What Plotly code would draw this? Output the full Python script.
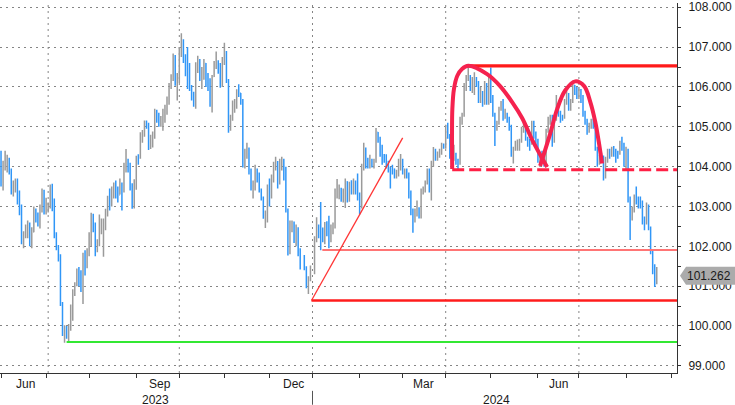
import pandas as pd
import plotly.graph_objects as go

# ---------------- data: DXY daily bars ----------------
closed_days = ['2023-12-25', '2024-01-01']
dates = [d.strftime('%Y-%m-%d') for d in pd.bdate_range('2023-05-31', '2024-08-22')
         if d.strftime('%Y-%m-%d') not in closed_days]

open_ = [
    104.08,
    104.33, 103.55, 104.03, 104.04, 104.13, 103.87, 103.33, 103.56, 103.63, 103.35, 102.95, 102.12, 102.26, 102.52, 102.52, 102.09, 102.36, 102.90, 102.69, 102.53, 102.90, 103.36,
    102.91, 102.98, 103.03, 103.37, 103.16, 102.27, 101.97, 101.73, 100.53, 99.77, 99.93, 99.91, 99.96, 100.28, 100.85, 101.07, 101.37, 101.34, 100.89, 101.78, 101.62,
    101.86, 102.30, 102.58, 102.49, 102.02, 102.08, 102.53, 102.53, 102.58, 102.85, 103.20, 103.18, 103.43, 103.58, 103.37, 103.29, 103.53, 103.38, 104.02, 104.13, 104.04, 103.53, 103.17,
    103.62, 104.24, 104.23, 104.83, 104.84, 105.08, 105.07, 104.57, 104.71, 104.75, 105.39, 105.32, 105.12, 105.19, 105.36, 105.39, 105.58, 106.00, 106.21, 106.68, 106.13,
    106.17, 106.92, 106.99, 106.78, 106.33, 106.04, 105.96, 105.80, 105.55, 106.58, 106.65, 106.25, 106.27, 106.59, 106.23, 106.16, 105.56, 106.26, 106.57, 106.61, 106.56, 106.10,
    106.66, 106.86, 106.17, 105.03, 105.23, 105.55, 105.57, 105.91, 105.85, 105.65, 104.07, 104.37, 104.37, 103.87, 103.45, 103.56, 103.91, 103.76, 103.40, 103.20, 102.77, 102.80,
    103.50, 103.27, 103.68, 104.00, 104.11, 103.61, 104.01, 104.05, 103.86, 102.90, 101.96, 102.55, 102.57, 102.18, 102.42, 101.81, 101.70, 101.45, 100.99, 101.23,
    101.33, 102.20, 102.47, 102.43, 102.42, 102.24, 102.55, 102.37, 102.29, 102.40, 102.51, 103.37, 103.43, 103.43, 103.29, 103.32, 103.62, 103.20, 103.58, 103.44, 103.60, 103.41,
    103.27, 103.05, 103.92, 104.44, 104.12, 104.05, 104.14, 104.11, 104.14, 104.86, 104.71, 104.28, 104.27, 104.27, 104.06, 103.97, 103.94, 103.94, 103.79, 103.83, 104.14,
    104.16, 103.86, 103.88, 103.81, 103.35, 102.80, 102.71, 102.89, 102.95, 102.79, 103.36, 103.43, 103.59, 103.90, 103.40, 104.06, 104.43, 104.23, 104.32, 104.35, 104.55,
    104.51, 104.98, 104.79, 104.25, 104.26, 104.30, 104.14, 104.10, 105.22, 105.28, 106.04, 106.21, 106.26, 105.96, 106.15, 106.15, 106.12, 105.66, 105.86, 105.58, 106.08, 105.60,
    106.22, 105.74, 105.29, 105.04, 105.08, 105.44, 105.53, 105.21, 105.30, 105.21, 104.99, 104.33, 104.43, 104.45, 104.58, 104.63, 104.92, 105.00, 104.72, 104.60, 104.60, 105.12, 104.76,
    104.67, 104.14, 104.27, 104.26, 104.10, 104.89, 105.15, 105.26, 104.68, 105.20, 105.55, 105.33, 105.26, 105.24, 105.63, 105.80, 105.46, 105.62, 106.04, 105.90,
    105.87, 105.89, 105.73, 105.38, 105.14, 104.88, 105.00, 105.12, 105.05, 104.44, 104.09, 104.25, 104.23, 103.75, 104.17, 104.40, 104.30, 104.46, 104.38, 104.34, 104.32, 104.57, 104.55,
    104.10, 104.40, 103.21, 102.73, 102.93, 103.16, 103.14, 103.14, 103.12, 102.62, 102.60, 103.00, 102.45, 101.85, 101.43, 101.10,
]
high = [
    104.70,
    104.40, 104.15, 104.40, 104.30, 104.22, 103.95, 103.65, 103.70, 103.70, 103.40, 103.05, 102.38, 102.55, 102.65, 102.60, 102.48, 103.00, 102.95, 102.85, 103.05, 103.45, 103.42,
    103.22, 103.10, 103.55, 103.57, 103.20, 102.35, 102.03, 101.80, 100.60, 100.02, 100.00, 100.05, 100.54, 100.92, 101.10, 101.44, 101.48, 101.40, 101.84, 101.90, 101.95,
    102.35, 102.84, 102.82, 102.60, 102.18, 102.80, 102.70, 102.70, 102.94, 103.27, 103.45, 103.50, 103.60, 103.65, 103.50, 103.70, 103.60, 104.10, 104.44, 104.20, 104.10, 103.58, 103.68,
    104.27, 104.31, 104.86, 104.92, 105.16, 105.16, 105.10, 104.80, 104.88, 105.45, 105.43, 105.35, 105.27, 105.45, 105.55, 105.76, 106.10, 106.32, 106.84, 106.80, 106.35,
    107.00, 107.35, 107.20, 106.82, 107.00, 106.60, 106.05, 105.88, 106.62, 106.78, 106.70, 106.50, 106.70, 106.60, 106.35, 106.22, 106.30, 106.65, 106.89, 106.67, 106.60, 106.75,
    107.11, 106.90, 106.20, 105.30, 105.66, 105.70, 105.94, 106.07, 105.85, 105.70, 104.45, 104.60, 104.48, 103.95, 103.65, 104.05, 103.95, 103.85, 103.45, 103.25, 102.90, 103.55,
    103.70, 103.80, 104.12, 104.25, 104.14, 104.20, 104.25, 104.20, 104.00, 102.95, 102.65, 102.65, 102.62, 102.55, 102.48, 101.95, 101.78, 101.50, 101.25, 101.52,
    102.25, 102.73, 102.55, 103.11, 102.47, 102.61, 102.63, 102.77, 102.55, 102.60, 103.45, 103.69, 103.55, 103.47, 103.45, 103.70, 103.63, 103.62, 103.66, 103.70, 103.65, 103.83,
    103.35, 104.07, 104.60, 104.48, 104.22, 104.30, 104.20, 104.20, 104.97, 104.87, 104.75, 104.55, 104.32, 104.31, 104.15, 104.00, 104.05, 103.95, 103.92, 104.20, 104.32,
    104.20, 103.95, 103.95, 103.85, 103.40, 102.95, 102.95, 103.15, 102.98, 103.45, 103.50, 103.65, 103.95, 103.95, 104.15, 104.49, 104.45, 104.38, 104.45, 104.60, 104.58,
    105.05, 105.10, 104.82, 104.38, 104.55, 104.35, 104.20, 105.25, 105.35, 106.10, 106.30, 106.52, 106.30, 106.25, 106.37, 106.25, 106.15, 106.00, 105.90, 106.15, 106.10, 106.30,
    106.49, 105.80, 105.35, 105.15, 105.50, 105.65, 105.70, 105.45, 105.35, 105.25, 105.05, 104.50, 104.65, 104.68, 104.70, 105.00, 105.13, 105.05, 104.75, 104.70, 105.15, 105.15, 104.88,
    104.70, 104.35, 104.40, 104.35, 104.95, 105.25, 105.30, 105.30, 105.28, 105.80, 105.60, 105.40, 105.30, 105.70, 105.90, 105.85, 105.70, 106.13, 106.05, 106.00,
    106.00, 105.95, 105.80, 105.40, 105.20, 105.10, 105.20, 105.20, 105.10, 104.50, 104.30, 104.35, 104.28, 104.25, 104.45, 104.45, 104.50, 104.52, 104.45, 104.40, 104.65, 104.75, 104.60,
    104.50, 104.45, 103.25, 103.00, 103.30, 103.50, 103.25, 103.25, 103.15, 102.75, 103.10, 103.05, 102.50, 101.90, 101.55, 101.48,
]
low = [
    104.00,
    103.50, 103.40, 103.90, 103.85, 103.80, 103.30, 103.25, 103.35, 103.05, 102.78, 102.05, 101.95, 102.20, 102.20, 102.00, 101.95, 102.35, 102.60, 102.50, 102.45, 102.85, 102.80,
    102.80, 102.85, 102.95, 102.88, 102.20, 101.90, 101.62, 100.50, 99.75, 99.58, 99.68, 99.57, 99.88, 100.13, 100.75, 101.00, 101.00, 100.85, 100.55, 101.27, 101.45,
    101.75, 102.00, 102.35, 101.75, 101.85, 102.00, 102.30, 101.74, 102.40, 102.75, 102.90, 103.00, 103.20, 103.20, 103.10, 103.30, 102.90, 103.35, 103.85, 103.85, 103.40, 102.94, 102.95,
    103.42, 104.05, 104.20, 104.60, 104.75, 104.95, 104.42, 104.44, 104.48, 104.70, 105.10, 105.00, 105.00, 104.90, 105.10, 105.30, 105.55, 105.95, 106.15, 106.03, 105.66,
    106.10, 106.75, 106.60, 106.27, 105.95, 105.90, 105.66, 105.50, 105.45, 106.35, 106.15, 105.95, 106.18, 106.00, 105.90, 105.50, 105.36, 106.25, 106.45, 106.33, 105.98, 106.00,
    106.55, 106.10, 104.85, 104.90, 105.15, 105.35, 105.45, 105.75, 105.55, 103.98, 103.95, 104.20, 103.80, 103.40, 103.20, 103.40, 103.60, 103.35, 103.15, 102.69, 102.46, 102.60,
    103.00, 103.20, 103.60, 103.90, 103.45, 103.55, 103.90, 103.65, 102.85, 101.77, 101.80, 102.35, 102.08, 102.00, 101.75, 101.42, 101.40, 100.95, 100.80, 101.12,
    101.30, 102.10, 102.20, 101.90, 102.10, 102.05, 102.25, 101.95, 102.10, 102.30, 102.45, 103.20, 103.18, 103.12, 103.10, 102.96, 103.10, 103.12, 103.30, 103.30, 103.30, 103.15,
    102.80, 102.95, 103.90, 103.95, 103.95, 103.95, 103.98, 103.95, 104.10, 104.60, 104.25, 104.05, 104.10, 103.95, 103.85, 103.45, 103.80, 103.70, 103.70, 103.75, 103.90,
    103.80, 103.70, 103.70, 103.20, 102.78, 102.34, 102.60, 102.75, 102.70, 102.70, 103.30, 103.35, 103.55, 103.35, 103.15, 104.00, 104.15, 104.15, 104.22, 104.30, 104.45,
    104.45, 104.70, 104.20, 104.06, 104.15, 104.05, 103.93, 104.05, 105.05, 105.25, 105.90, 106.15, 105.90, 105.85, 105.80, 106.00, 105.60, 105.60, 105.50, 105.55, 105.55, 105.55,
    105.60, 105.25, 104.52, 104.90, 105.05, 105.40, 105.15, 105.20, 105.10, 104.90, 104.25, 104.08, 104.40, 104.40, 104.40, 104.60, 104.85, 104.65, 104.50, 104.40, 104.55, 104.70, 104.45,
    104.10, 103.99, 104.10, 104.00, 104.05, 104.85, 105.05, 104.50, 104.60, 105.15, 105.25, 105.10, 105.15, 105.20, 105.55, 105.40, 105.40, 105.60, 105.80, 105.70,
    105.70, 105.60, 105.25, 105.05, 104.80, 104.85, 104.95, 104.95, 104.40, 104.00, 104.05, 104.15, 103.65, 103.70, 104.10, 104.20, 104.25, 104.25, 104.10, 104.20, 104.30, 104.40, 104.00,
    103.90, 103.10, 102.16, 102.65, 102.85, 103.05, 102.95, 102.95, 102.55, 102.40, 102.55, 102.40, 101.80, 101.30, 100.98, 101.05,
]
close = [
    104.33,
    103.55, 104.03, 104.04, 104.13, 103.87, 103.33, 103.56, 103.63, 103.35, 102.95, 102.12, 102.26, 102.52, 102.52, 102.09, 102.36, 102.90, 102.69, 102.53, 102.90, 103.36, 102.91,
    102.98, 103.03, 103.37, 103.16, 102.27, 101.97, 101.73, 100.53, 99.77, 99.93, 99.91, 99.96, 100.28, 100.85, 101.07, 101.37, 101.34, 100.89, 101.78, 101.62, 101.86,
    102.30, 102.58, 102.49, 102.02, 102.08, 102.53, 102.53, 102.58, 102.85, 103.20, 103.18, 103.43, 103.58, 103.37, 103.29, 103.53, 103.38, 104.02, 104.13, 104.04, 103.53, 103.17, 103.62,
    104.24, 104.23, 104.83, 104.84, 105.08, 105.07, 104.57, 104.71, 104.75, 105.39, 105.32, 105.12, 105.19, 105.36, 105.39, 105.58, 106.00, 106.21, 106.68, 106.13, 106.17,
    106.92, 106.99, 106.78, 106.33, 106.04, 105.96, 105.80, 105.55, 106.58, 106.65, 106.25, 106.27, 106.59, 106.23, 106.16, 105.56, 106.26, 106.57, 106.61, 106.56, 106.10, 106.66,
    106.86, 106.17, 105.03, 105.23, 105.55, 105.57, 105.91, 105.85, 105.65, 104.07, 104.37, 104.37, 103.87, 103.45, 103.56, 103.91, 103.76, 103.40, 103.20, 102.77, 102.80, 103.50,
    103.27, 103.68, 104.00, 104.11, 103.61, 104.01, 104.05, 103.86, 102.90, 101.96, 102.55, 102.57, 102.18, 102.42, 101.81, 101.70, 101.45, 100.99, 101.23, 101.33,
    102.20, 102.47, 102.43, 102.42, 102.24, 102.55, 102.37, 102.29, 102.40, 102.51, 103.37, 103.43, 103.43, 103.29, 103.32, 103.62, 103.20, 103.58, 103.44, 103.60, 103.41, 103.27,
    103.05, 103.92, 104.44, 104.12, 104.05, 104.14, 104.11, 104.14, 104.86, 104.71, 104.28, 104.27, 104.27, 104.06, 103.97, 103.94, 103.94, 103.79, 103.83, 104.14, 104.16,
    103.86, 103.88, 103.81, 103.35, 102.80, 102.71, 102.89, 102.95, 102.79, 103.36, 103.43, 103.59, 103.90, 103.40, 104.06, 104.43, 104.23, 104.32, 104.35, 104.55, 104.51,
    104.98, 104.79, 104.25, 104.26, 104.30, 104.14, 104.10, 105.22, 105.28, 106.04, 106.21, 106.26, 105.96, 106.15, 106.15, 106.12, 105.66, 105.86, 105.58, 106.08, 105.60, 106.22,
    105.74, 105.29, 105.04, 105.08, 105.44, 105.53, 105.21, 105.30, 105.21, 104.99, 104.33, 104.43, 104.45, 104.58, 104.63, 104.92, 105.00, 104.72, 104.60, 104.60, 105.12, 104.76, 104.67,
    104.14, 104.27, 104.26, 104.10, 104.89, 105.15, 105.26, 104.68, 105.20, 105.55, 105.33, 105.26, 105.24, 105.63, 105.80, 105.46, 105.62, 106.04, 105.90, 105.87,
    105.89, 105.73, 105.38, 105.14, 104.88, 105.00, 105.12, 105.05, 104.44, 104.09, 104.25, 104.23, 103.75, 104.17, 104.40, 104.30, 104.46, 104.38, 104.34, 104.32, 104.57, 104.55, 104.10,
    104.40, 103.21, 102.73, 102.93, 103.16, 103.14, 103.14, 103.12, 102.62, 102.60, 103.00, 102.45, 101.85, 101.43, 101.10, 101.262,
]
assert len(dates) == len(open_) == len(high) == len(low) == len(close), (
    len(dates), len(open_), len(high), len(low), len(close))

# drawn analysis lines (levels and start dates)
green_level, green_start = 99.60, '2023-07-17'
red_level, red_start = 100.64, '2023-12-29 12:00'
pink_level, pink_start = 101.91, '2024-01-05 19:00'
dash_level, dash_start = 103.92, '2024-04-04 04:00'
top_level, top_start = 106.53, '2024-04-16 01:00'
diag_x = ['2023-12-29 12:00', '2024-03-01']
diag_y = [100.64, 104.72]
cup_x = ['2024-04-04 04:00', '2024-04-04 02:00', '2024-04-04 06:00', '2024-04-05 01:00',
         '2024-04-08 16:00', '2024-04-10 23:00', '2024-04-16 01:00', '2024-04-29 05:00',
         '2024-05-07 13:00', '2024-05-15 10:00', '2024-05-22 07:00', '2024-05-29 17:00',
         '2024-06-07 12:00']
cup_y = [103.94, 104.79, 105.45, 105.95, 106.28, 106.45, 106.53, 106.32,
         106.02, 105.62, 105.22, 104.62, 103.99]
hump_x = ['2024-06-04 02:00', '2024-06-11 00:00', '2024-06-14 10:00', '2024-06-20 07:00',
          '2024-06-27 05:00', '2024-07-03 14:00', '2024-07-08 14:00', '2024-07-11 00:00',
          '2024-07-12 17:00', '2024-07-16 07:00']
hump_y = [104.02, 104.83, 105.45, 105.91, 106.14, 106.02, 105.62, 105.12, 104.62, 104.08]

# axis labels
y_ticks = [99, 100, 101, 102, 103, 104, 105, 106, 107, 108]
month_ticks = ['2023-06-01', '2023-07-03', '2023-08-01', '2023-09-01', '2023-10-02',
               '2023-11-01', '2023-12-01', '2024-01-01', '2024-02-01', '2024-03-01',
               '2024-04-01', '2024-05-01', '2024-06-03', '2024-07-01', '2024-08-01', '2024-09-02']
quarter_lines = ['2023-07-04', '2023-10-02', '2024-01-01', '2024-04-01', '2024-07-01']
month_labels = ['Jun', 'Sep', 'Dec', 'Mar', 'Jun']
month_label_pos = ['2023-06-19', '2023-09-18 12:00', '2023-12-18 12:00', '2024-03-15', '2024-06-17']
year_labels = ['2023', '2024']
year_label_pos = ['2023-09-14 12:00', '2024-05-03 14:00']
year_divider = '2024-01-01'

# ---------------- layout constants ----------------
W, H = 735, 405
ML, MR, MT, MB = 0, 58, 0, 32
PLOT_W, PLOT_H = W - ML - MR, H - MT - MB
Y_MIN, Y_MAX = 98.82, 108.107
X_START, X_END = '2023-05-31 12:00', '2024-09-04 21:00'
FONT = 'Liberation Sans, Arial, sans-serif'
TXT = '#1a1a1a'

fig = go.Figure()
fig.add_trace(go.Ohlc(
    x=dates, open=open_, high=high, low=low, close=close,
    increasing=dict(line=dict(color='#9a9a9a', width=1.5)),
    decreasing=dict(line=dict(color='#3096f7', width=1.5)),
    tickwidth=0.3, hoverinfo='skip', showlegend=False))


def hline(level, start, color, width, dash='solid'):
    fig.add_trace(go.Scatter(x=[start, X_END], y=[level, level], mode='lines',
                             line=dict(color=color, width=width, dash=dash),
                             hoverinfo='skip', showlegend=False))


hline(green_level, green_start, '#33e833', 2)
hline(red_level, red_start, '#ff1c1c', 2.5)
hline(pink_level, pink_start, '#ff7575', 2)
fig.add_trace(go.Scatter(x=diag_x, y=diag_y, mode='lines',
                         line=dict(color='#ff3535', width=1.3),
                         hoverinfo='skip', showlegend=False))
hline(dash_level, dash_start, '#ff2045', 3, dash='12px,5px')
hline(top_level, top_start, '#ff1a1a', 3.2)
for xs, ys in [(cup_x, cup_y), (hump_x, hump_y)]:
    fig.add_trace(go.Scatter(x=xs, y=ys, mode='lines',
                             line=dict(color='#f5224e', width=4, shape='spline', smoothing=1.0),
                             hoverinfo='skip', showlegend=False))

# right axis tick arrows
fig.add_trace(go.Scatter(x=[681 / PLOT_W] * len(y_ticks), y=y_ticks, xaxis='x2', yaxis='y',
                         mode='markers', cliponaxis=False,
                         marker=dict(symbol='triangle-right', size=6, color='#111'),
                         hoverinfo='skip', showlegend=False))

shapes = []
for q in quarter_lines:
    shapes.append(dict(type='line', xref='x', yref='paper', x0=q, x1=q, y0=0, y1=1,
                       line=dict(color='#858585', width=1, dash='2px,4px'), layer='below'))
shapes.append(dict(type='line', xref='x', yref='paper', x0=year_divider, x1=year_divider,
                   y0=-18 / PLOT_H, y1=-32 / PLOT_H, line=dict(color='#555', width=1)))
# last price tag
last = close[-1]
yc = (last - Y_MIN) / (Y_MAX - Y_MIN)
hh = 9 / PLOT_H
x_tip, x_l, x_r = 680 / PLOT_W, 686 / PLOT_W, W / PLOT_W
shapes.append(dict(type='path', xref='paper', yref='paper', layer='above',
                   path=f'M {x_tip},{yc} L {x_l},{yc + hh} L {x_r},{yc + hh} '
                        f'L {x_r},{yc - hh} L {x_l},{yc - hh} Z',
                   fillcolor='#ababab', line=dict(width=0)))

annotations = []
for t, p in zip(month_labels, month_label_pos):
    annotations.append(dict(x=p, y=0, xref='x', yref='paper', text=t, showarrow=False,
                            yanchor='middle', yshift=-11, font=dict(family=FONT, size=12, color=TXT)))
for t, p in zip(year_labels, year_label_pos):
    annotations.append(dict(x=p, y=0, xref='x', yref='paper', text=t, showarrow=False,
                            yanchor='middle', yshift=-27, font=dict(family=FONT, size=12, color=TXT)))
annotations.append(dict(x=709 / PLOT_W, y=last, xref='paper', yref='y', text=f'{last:.3f}',
                        showarrow=False, xanchor='center', yanchor='middle',
                        font=dict(family=FONT, size=12, color=TXT)))

fig.update_layout(
    width=W, height=H, margin=dict(l=ML, r=MR, t=MT, b=MB, pad=0),
    paper_bgcolor='white', plot_bgcolor='white', showlegend=False, hovermode=False,
    font=dict(family=FONT, size=12, color=TXT),
    xaxis=dict(type='date', range=[X_START, X_END], rangeslider=dict(visible=False),
               rangebreaks=[dict(bounds=['sat', 'mon'])],
               tickmode='array', tickvals=month_ticks, showticklabels=False,
               ticks='outside', ticklen=4, tickcolor='#333', tickwidth=1,
               showgrid=False, zeroline=False, showline=True, linecolor='#333', linewidth=1),
    xaxis2=dict(overlaying='x', range=[0, 1], visible=False, fixedrange=True),
    yaxis=dict(side='right', range=[Y_MIN, Y_MAX], tickmode='array', tickvals=y_ticks,
               tickformat='.3f', ticks='outside', ticklen=8, tickcolor='rgba(0,0,0,0)',
               ticklabeloverflow='allow',
               tickfont=dict(family=FONT, size=12, color=TXT),
               showgrid=True, gridcolor='#858585', gridwidth=1, griddash='2px,4px',
               zeroline=False, showline=True, linecolor='#333', linewidth=1,
               minor=dict(dtick=0.5, tick0=0, ticks='outside', ticklen=3,
                          tickcolor='#333', tickwidth=1, showgrid=False)),
    shapes=shapes, annotations=annotations,
)

fig.write_html('out.html', config={'displayModeBar': False},
               post_script="document.body.style.margin='0';document.body.style.padding='0';"
                           "document.body.style.overflow='hidden';")
